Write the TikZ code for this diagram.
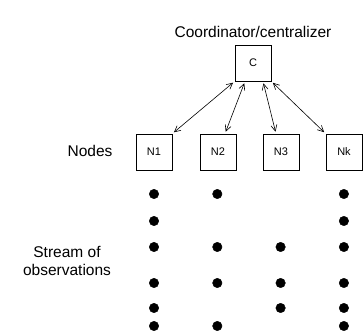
\documentclass[tikz,border=0pt]{standalone}
\usepackage{fontspec}
\setmainfont{Liberation Sans}
\usetikzlibrary{arrows.meta}
\tikzstyle{box}=[rectangle,draw=black,line width=0.8pt,inner sep=0pt,
                 minimum size=36pt,font=\fontsize{11}{13}\selectfont]
\tikzstyle{blackdot}=[circle,draw=black,fill=black,
                      inner sep=0pt,minimum size=9.5pt]
\tikzstyle{caption}=[font=\fontsize{15.5}{18.3}\selectfont,align=center]

\begin{document}
\begin{tikzpicture}[x=1pt,y=-1pt,>={Straight Barb[length=6pt,width=6pt]}]
    \useasboundingbox (0,0) rectangle (364,336);
    % coordinator and the nodes
    \node (c)  at (253, 63) [box]{C};
    \node (n1) at (154,152) [box]{N1};
    \node (n2) at (218,152) [box]{N2};
    \node (n3) at (281,152) [box]{N3};
    \node (nk) at (344,152) [box]{Nk};
    \node (title) at (253,32) [caption]{Coordinator/centralizer};
    \node (nodes) at (90,151) [caption]{Nodes};
    \node (stream) at (67,261) [caption]{Stream of\\observations};
    % two-way links
    \begin{scope}[<->,line width=0.6pt,shorten <=2pt,shorten >=2pt]
      \draw (c.south west) -- (n1.north east);
      \draw ([xshift=-8pt]c.south) -- ([xshift=7pt]n2.north);
      \draw ([xshift=10pt]c.south) -- ([xshift=-5pt]n3.north);
      \draw (c.south east) -- (nk.north west);
    \end{scope}
    % observations arriving at each node
    \foreach \col/\row in {1/194,2/194,4/194,
                           1/221,4/221,
                           1/247,2/247,3/247,4/247,
                           1/283,2/283,3/283,4/283,
                           1/308,3/308,4/308,
                           1/326,2/326,4/326}
      \node (d\col-\row) at (154+63.3*\col-63.3,\row) [blackdot]{};
  \end{tikzpicture}
\end{document}
